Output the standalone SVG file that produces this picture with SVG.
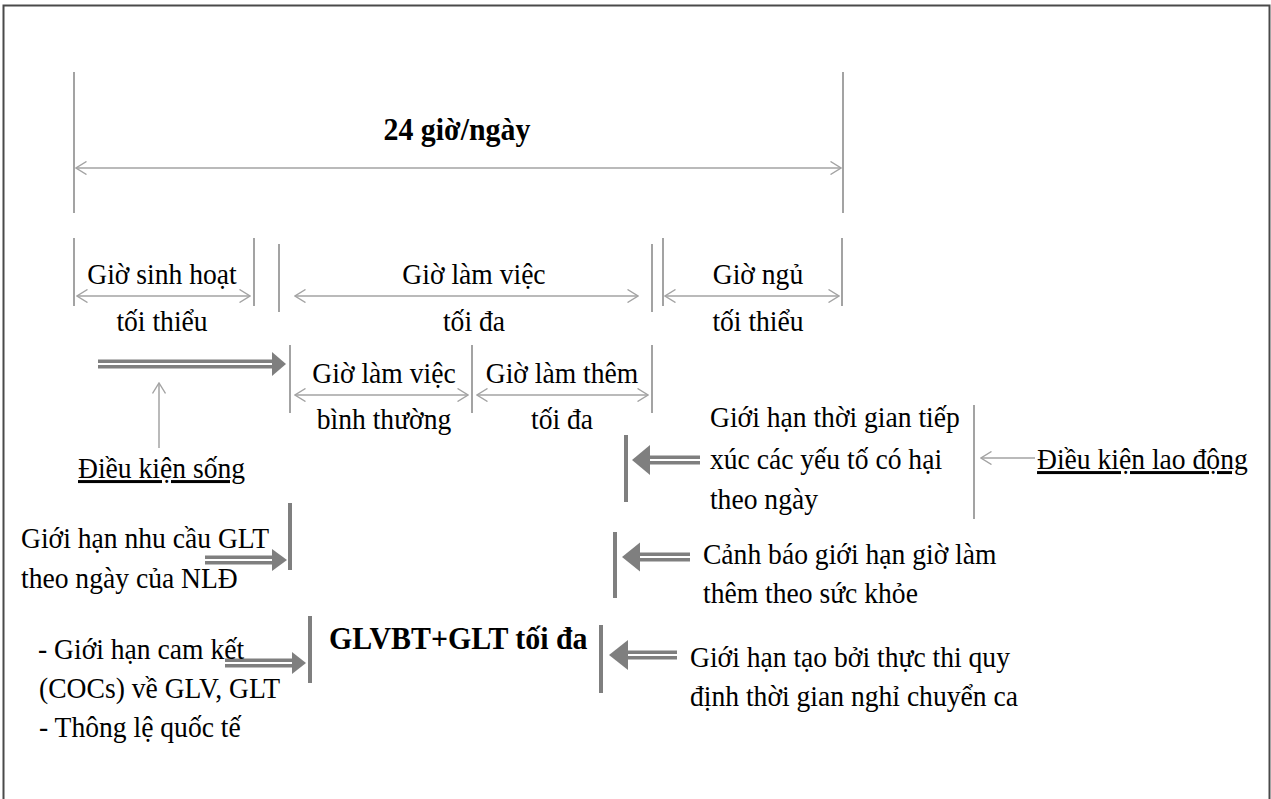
<svg xmlns="http://www.w3.org/2000/svg" width="1271" height="799" viewBox="0 0 1271 799">
  <defs>
    <marker id="chev" viewBox="0 0 12 14" refX="11" refY="7" markerWidth="12" markerHeight="14" markerUnits="userSpaceOnUse" orient="auto-start-reverse">
      <path d="M0.5,0.5 L11,7 L0.5,13.5" fill="none" stroke="#a3a3a3" stroke-width="1.4"/>
    </marker>
    <style>
      text { font-family: "Liberation Serif", "Times New Roman", serif; font-size: 30px; fill: #000; }
      .b { font-weight: bold; font-size: 32.5px; }
      .c { text-anchor: middle; }
      .u { text-decoration: underline; }
      .bar { stroke: #a3a3a3; stroke-width: 2; fill: none; }
      .dim { stroke: #a3a3a3; stroke-width: 1.5; fill: none; marker-start: url(#chev); marker-end: url(#chev); }
      .one { stroke: #a3a3a3; stroke-width: 1.5; fill: none; marker-end: url(#chev); }
      .tbar { stroke: #7f7f7f; stroke-width: 4; fill: none; }
      .shaft { stroke: #7f7f7f; stroke-width: 3.6; fill: none; }
      .head { fill: #7f7f7f; }
    </style>
  </defs>

  <rect x="3.5" y="5.5" width="1266" height="820" fill="#fff" stroke="#4a4a4a" stroke-width="2"/>

  <!-- span bars and dimension arrows -->
  <g id="connectors">
    <!-- full day span -->
    <line class="bar" x1="74" y1="72" x2="74" y2="213"/>
    <line class="bar" x1="843" y1="72" x2="843" y2="213"/>
    <line class="dim" x1="76" y1="168" x2="841" y2="168"/>

    <!-- second row -->
    <line class="bar" x1="74" y1="238" x2="74" y2="306"/>
    <line class="bar" x1="254" y1="238" x2="254" y2="306"/>
    <line class="bar" x1="279" y1="244" x2="279" y2="312"/>
    <line class="bar" x1="652" y1="244" x2="652" y2="312"/>
    <line class="bar" x1="663" y1="238" x2="663" y2="306"/>
    <line class="bar" x1="842" y1="238" x2="842" y2="306"/>
    <line class="dim" x1="77" y1="296" x2="250" y2="296"/>
    <line class="dim" x1="295" y1="296" x2="638" y2="296"/>
    <line class="dim" x1="665" y1="296" x2="839" y2="296"/>

    <!-- third row -->
    <line class="bar" x1="290" y1="345" x2="290" y2="413"/>
    <line class="bar" x1="472" y1="345" x2="472" y2="413"/>
    <line class="bar" x1="652" y1="345" x2="652" y2="413"/>
    <line class="dim" x1="295" y1="395" x2="468" y2="395"/>
    <line class="dim" x1="477" y1="395" x2="648" y2="395"/>

    <!-- living / labour condition pointers -->
    <line class="one" x1="159" y1="448" x2="159" y2="383"/>
    <line class="bar" x1="974" y1="405" x2="974" y2="519"/>
    <line class="one" x1="1035" y1="458" x2="981" y2="458"/>

    <!-- heavy limit bars -->
    <line class="tbar" x1="290" y1="503" x2="290" y2="570"/>
    <line class="tbar" x1="310" y1="616" x2="310" y2="683"/>
    <line class="tbar" x1="626" y1="435" x2="626" y2="502"/>
    <line class="tbar" x1="615" y1="532" x2="615" y2="598"/>
    <line class="tbar" x1="601" y1="625" x2="601" y2="693"/>

    <!-- double-line block arrows -->
    <g id="arrow-living">
      <line class="shaft" x1="98" y1="361.2" x2="274" y2="361.2"/>
      <line class="shaft" x1="98" y1="366.8" x2="274" y2="366.8"/>
      <polygon class="head" points="272,352 286,364 272,376"/>
    </g>
    <g id="arrow-demand">
      <line class="shaft" x1="205" y1="557.2" x2="274" y2="557.2"/>
      <line class="shaft" x1="205" y1="562.8" x2="274" y2="562.8"/>
      <polygon class="head" points="272,549 287,560 272,571"/>
    </g>
    <g id="arrow-cocs">
      <line class="shaft" x1="225" y1="660.2" x2="294" y2="660.2"/>
      <line class="shaft" x1="225" y1="665.8" x2="294" y2="665.8"/>
      <polygon class="head" points="292,652 306,663 292,674"/>
    </g>
    <g id="arrow-exposure">
      <line class="shaft" x1="648" y1="457.2" x2="700" y2="457.2"/>
      <line class="shaft" x1="648" y1="462.8" x2="700" y2="462.8"/>
      <polygon class="head" points="650,445 632,460 650,475"/>
    </g>
    <g id="arrow-health">
      <line class="shaft" x1="638" y1="554.2" x2="690" y2="554.2"/>
      <line class="shaft" x1="638" y1="559.8" x2="690" y2="559.8"/>
      <polygon class="head" points="640,542.5 622,557 640,571.5"/>
    </g>
    <g id="arrow-shift">
      <line class="shaft" x1="626" y1="652.2" x2="677" y2="652.2"/>
      <line class="shaft" x1="626" y1="657.8" x2="677" y2="657.8"/>
      <polygon class="head" points="628,640 609,655 628,670"/>
    </g>
  </g>

  <!-- labels use a slightly condensed face: x positions are divided by 0.92 -->
  <g id="labels" transform="scale(0.92 1)">
    <g id="day"><text class="b c" x="496.7" y="140">24 giờ/ngày</text></g>

    <g id="living-hours">
      <text class="c" x="176.1" y="284">Giờ sinh hoạt</text>
      <text class="c" x="176.1" y="331">tối thiểu</text>
    </g>
    <g id="work-hours">
      <text class="c" x="515.2" y="284">Giờ làm việc</text>
      <text class="c" x="515.2" y="331">tối đa</text>
    </g>
    <g id="sleep-hours">
      <text class="c" x="823.9" y="284">Giờ ngủ</text>
      <text class="c" x="823.9" y="331">tối thiểu</text>
    </g>
    <g id="normal-hours">
      <text class="c" x="417.4" y="383">Giờ làm việc</text>
      <text class="c" x="417.4" y="429">bình thường</text>
    </g>
    <g id="overtime-hours">
      <text class="c" x="610.9" y="383">Giờ làm thêm</text>
      <text class="c" x="610.9" y="429">tối đa</text>
    </g>

    <g id="living-conditions"><text class="u" x="84.8" y="478">Điều kiện sống</text></g>

    <g id="exposure-limit">
      <text x="771.7" y="427">Giới hạn thời gian tiếp</text>
      <text x="771.7" y="469">xúc các yếu tố có hại</text>
      <text x="771.7" y="509">theo ngày</text>
    </g>
    <g id="labour-conditions"><text class="u" x="1127.2" y="469">Điều kiện lao động</text></g>

    <g id="worker-demand">
      <text x="22.8" y="548">Giới hạn nhu cầu GLT</text>
      <text x="22.8" y="588">theo ngày của NLĐ</text>
    </g>

    <g id="health-warning">
      <text x="764.1" y="564">Cảnh báo giới hạn giờ làm</text>
      <text x="764.1" y="603">thêm theo sức khỏe</text>
    </g>

    <g id="total-max"><text class="b" x="357.6" y="649">GLVBT+GLT tối đa</text></g>

    <g id="commitments">
      <text x="41.3" y="659">- Giới hạn cam kết</text>
      <text x="42.4" y="698">(COCs) về GLV, GLT</text>
      <text x="42.4" y="737">- Thông lệ quốc tế</text>
    </g>

    <g id="shift-rest">
      <text x="750" y="667">Giới hạn tạo bởi thực thi quy</text>
      <text x="750" y="706">định thời gian nghỉ chuyển ca</text>
    </g>
  </g>
</svg>
